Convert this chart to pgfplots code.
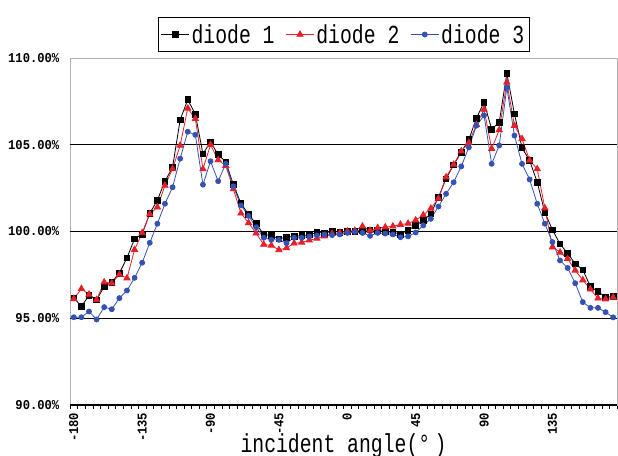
\documentclass[border=0pt]{standalone}
\usepackage{pgfplots}
\usepackage{pgfplotstable}
\usepackage{fontspec}
\pgfplotsset{compat=1.18}

\newfontfamily\labelfont[FakeStretch=0.76]{Liberation Mono}
\newfontfamily\tickfont[FakeStretch=0.9]{Liberation Mono}

\definecolor{dred}{RGB}{230,32,40}
\definecolor{dblue}{RGB}{52,82,182}

% relative response (%) of the three diodes versus incident angle
\pgfplotstableread{
a     d1      d2      d3
-180  96.18   96.12   95.06
-175  95.68   96.70   95.06
-170  96.31   96.37   95.39
-165  96.06   96.06   94.93
-160  96.83   97.08   95.64
-155  97.08   97.02   95.52
-150  97.60   97.52   96.16
-145  98.48   97.31   96.60
-140  99.58   98.95   97.33
-135  99.85   99.92   98.20
-130  101.05  101.00  99.35
-125  101.80  101.40  100.45
-120  102.90  102.65  101.60
-115  103.70  103.61  102.55
-110  106.44  104.96  104.20
-105  107.60  107.10  105.75
-100  106.76  106.50  105.57
-95   104.47  103.60  102.70
-90   105.17  105.00  104.05
-85   104.43  104.12  102.90
-80   104.02  103.80  103.90
-75   102.70  102.45  102.60
-70   101.62  101.05  101.50
-65   100.99  100.50  100.90
-60   100.45  99.90   100.25
-55   99.83   99.25   99.64
-50   99.77   99.20   99.52
-45   99.58   98.94   99.52
-40   99.67   99.05   99.33
-35   99.71   99.32   99.64
-30   99.77   99.37   99.64
-25   99.80   99.50   99.71
-20   99.96   99.60   99.77
-15   99.90   99.73   99.83
-10   100.02  99.87   99.79
-5    99.96   99.92   99.83
0     100.00  100.02  99.92
5     100.02  100.05  99.98
10    100.06  100.30  99.92
15    100.10  100.06  99.75
20    100.06  100.21  99.92
25    100.00  100.25  99.88
30    99.96   100.30  99.83
35    99.85   100.40  99.67
40    100.08  100.46  99.72
45    100.35  100.65  99.94
50    100.63  100.95  100.35
55    101.02  101.33  100.73
60    101.98  101.90  101.44
65    103.04  103.13  102.17
70    103.84  103.86  102.84
75    104.57  104.63  103.75
80    105.30  105.12  104.85
85    106.53  106.15  106.10
90    107.45  107.03  106.69
95    105.90  104.77  103.90
100   106.30  105.85  104.96
105   109.12  108.60  108.30
110   106.78  106.10  105.53
115   104.82  105.34  103.90
120   104.09  104.10  103.00
125   102.84  103.60  101.60
130   101.10  101.35  100.45
135   100.10  99.10   99.39
140   99.28   98.80   98.33
145   98.75   98.43   97.90
150   98.14   97.76   97.02
155   97.79   97.20   95.93
160   96.83   96.67   95.60
165   96.54   96.15   95.60
170   96.21   96.10   95.35
175   96.25   96.20   95.05
}\diodes

\begin{document}
\begin{tikzpicture}
\begin{axis}[
  at={(0,0)}, anchor=south west,
  scale only axis,
  width=547bp, height=347bp,
  xmin=-182.5, xmax=177.5,
  ymin=90, ymax=110,
  axis line style={gray!60, line width=0.6bp},
  xtick={-180,-135,-90,-45,0,45,90,135},
  xticklabels={-180,-135,-90,-45,0,45,90,135},
  major x tick style={draw=none},
  minor xtick={-182.5,-177.5,...,177.5},
  minor tick length=3.5bp,
  minor x tick style={black, line width=0.5bp},
  tick align=outside,
  xtick pos=bottom,
  xticklabel style={rotate=90, anchor=east, font=\fontsize{13.5bp}{15bp}\tickfont\bfseries},
  ytick={90,95,100,105,110},
  yticklabels={90.00\%,95.00\%,100.00\%,105.00\%,110.00\%},
  ytick style={draw=none},
  yticklabel style={font=\fontsize{13.5bp}{15bp}\tickfont\bfseries, xshift=-3bp},
  extra y ticks={90,95,100,105},
  extra y tick labels={},
  extra y tick style={grid=major, major grid style={black, line width=1.4bp}, tick style={draw=none}},
  xlabel={incident angle(°\,)},
  xlabel style={font=\fontsize{26bp}{26bp}\labelfont, yshift=15bp},
  legend columns=3,
  legend style={at={(0.5,1.0173)}, anchor=south, draw=black, line width=0.6bp,
    font=\fontsize{26bp}{27bp}\labelfont, inner xsep=3bp, inner ysep=5bp,
    /tikz/every even column/.append style={column sep=9bp}},
  legend image code/.code={
    \draw[#1, mark repeat=2, mark phase=2] plot coordinates {(0bp,0bp) (14bp,0bp) (28bp,0bp)};},
]
\addplot[black, line width=0.8bp, mark=square*, mark size=2.8bp] table[x=a, y=d1] {\diodes};
\addlegendentry{diode 1}
\addplot[dred, line width=0.8bp, mark=triangle*, mark size=3.6bp] table[x=a, y=d2] {\diodes};
\addlegendentry{diode 2}
\addplot[dblue, line width=0.8bp, mark=*, mark size=2.5bp] table[x=a, y=d3] {\diodes};
\addlegendentry{diode 3}
\end{axis}
\pgfresetboundingbox
\path[use as bounding box] (-70bp,-51bp) rectangle (548bp,405bp);
\end{tikzpicture}
\end{document}
